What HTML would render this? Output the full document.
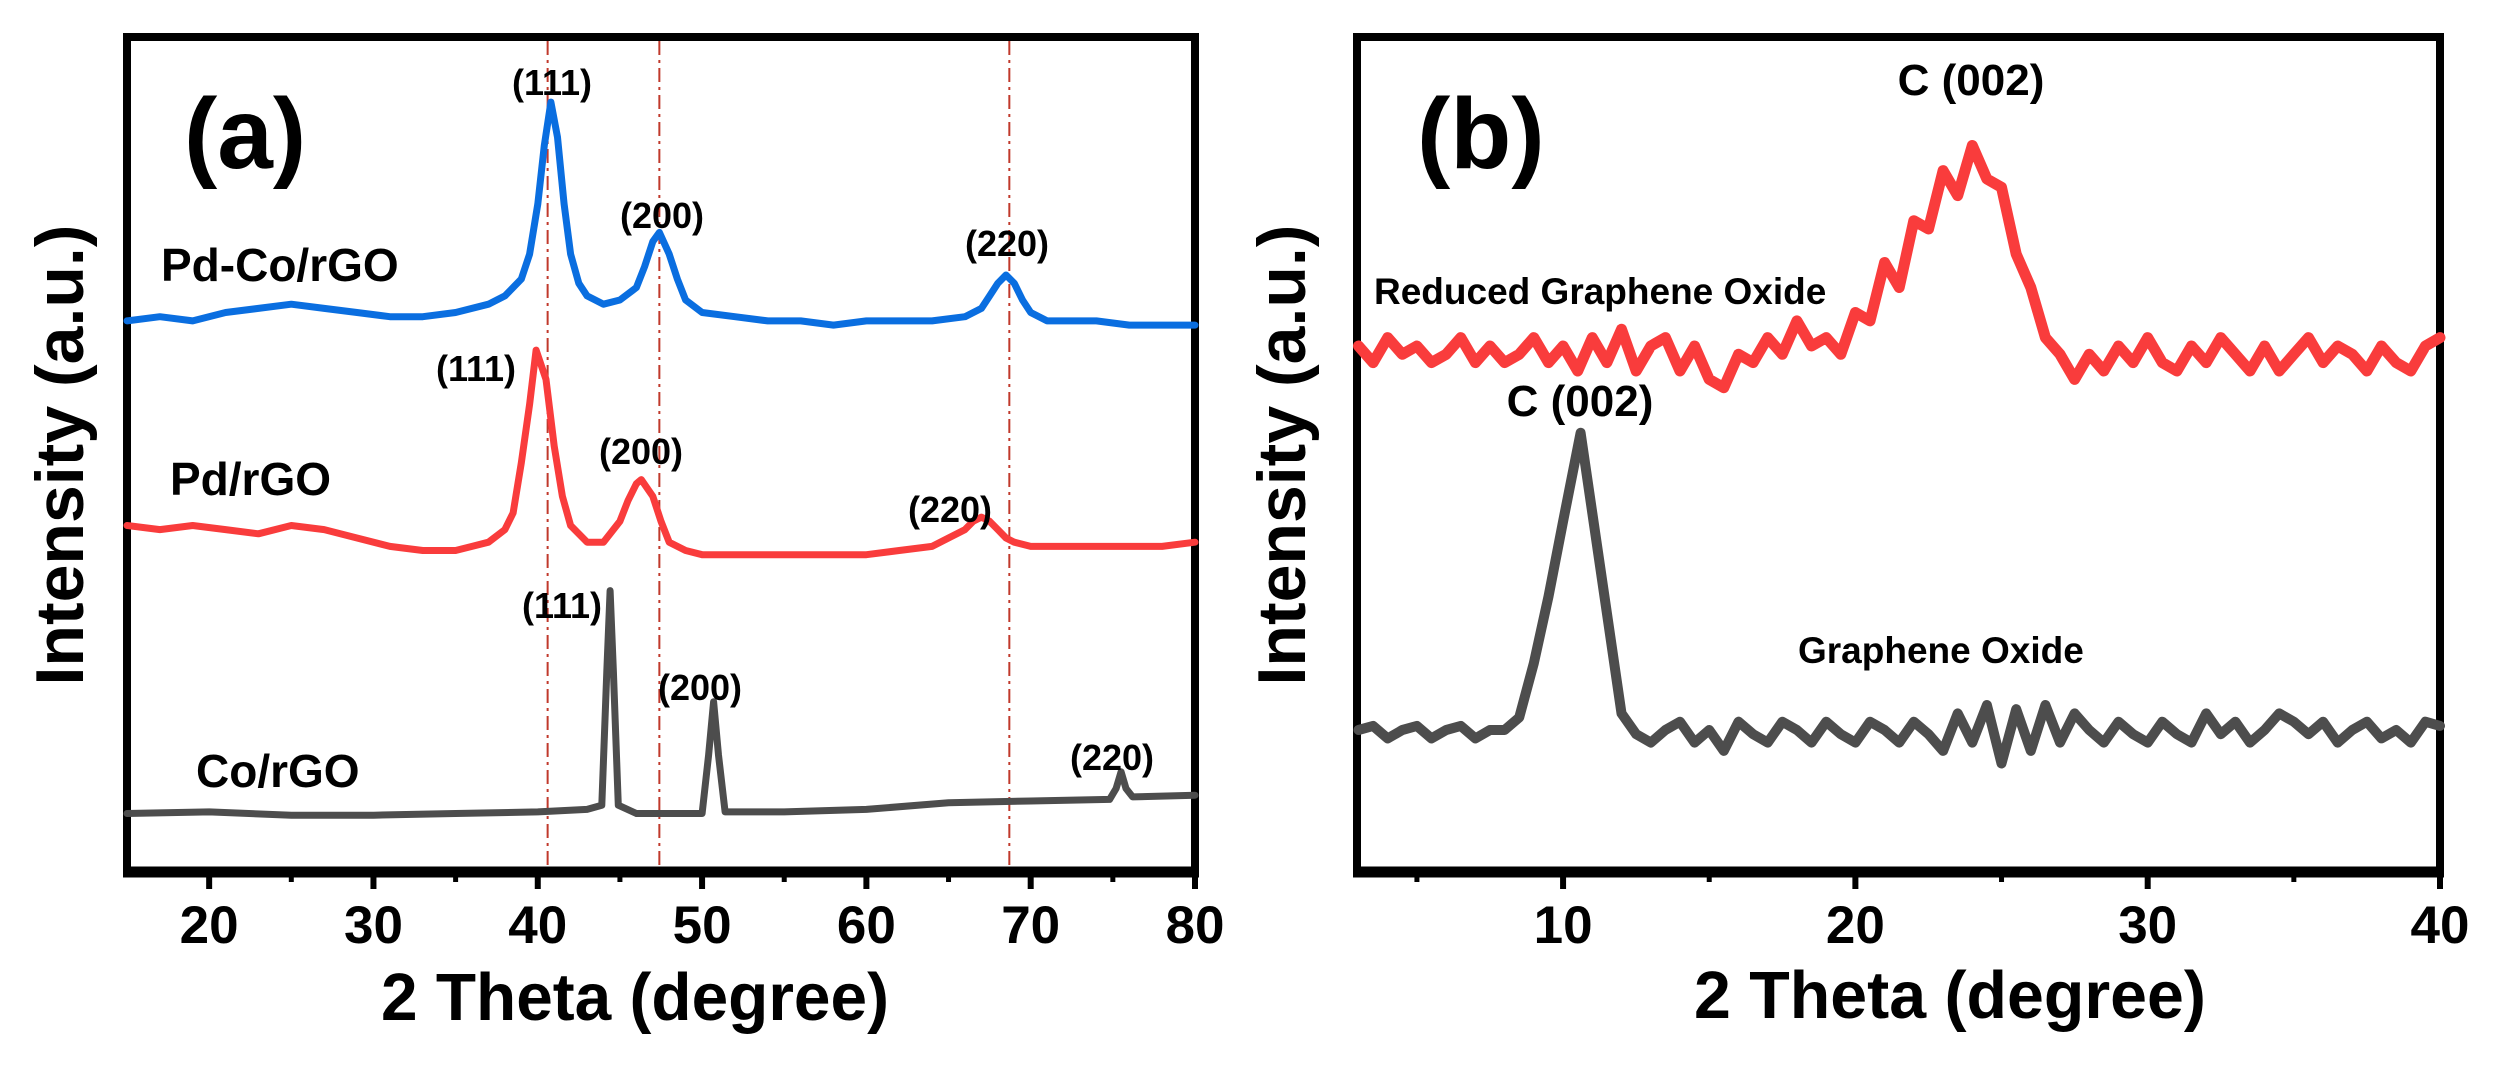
<!DOCTYPE html>
<html><head><meta charset="utf-8"><style>
html,body{margin:0;padding:0;background:#fff;}
svg{display:block;font-family:"Liberation Sans",Arial,sans-serif;font-weight:bold;}
</style></head><body>
<svg id="fig" width="2501" height="1070" viewBox="0 0 2501 1070" xmlns="http://www.w3.org/2000/svg">
<rect x="0" y="0" width="2501" height="1070" fill="#fff"/>
<g id="panelA"></g>
<g id="panelB"></g>
</svg>
<script>
// ---- Panel (a) data ----
const aTicks = [20,30,40,50,60,70,80];
const aMinor = [25,35,45,55,65,75];
const refLines = [40.6,47.4,68.7];
const pdcoX = [15,17,19,21,23,25,27,29,31,33,35,37,38,39,39.5,40,40.4,40.8,41.2,41.6,42,42.5,43,44,45,46,46.5,47,47.4,48,48.5,49,50,52,54,56,58,60,62,64,66,67,67.5,68,68.5,69,69.5,70,71,72,74,76,78,80];
const pdcoY = [66,66.5,66,67,67.5,68,67.5,67,66.5,66.5,67,68,69,71,74,80,87,92.2,88,80,74,70.5,69,68,68.5,70,72.5,75.5,76.6,74,71,68.5,67,66.5,66,66,65.5,66,66,66,66.5,67.5,69,70.5,71.5,70.5,68.5,67,66,66,66,65.5,65.5,65.5];
const pdX = [15,17,19,21,23,25,27,29,31,33,35,36,37,38,38.5,39,39.5,39.9,40.5,41,41.5,42,43,44,45,45.5,46,46.3,47,47.5,48,49,50,52,54,56,58,60,62,64,65,66,66.5,67,67.5,68,68.5,69,70,72,74,76,78,80];
const pdY = [41.5,41,41.5,41,40.5,41.5,41,40,39,38.5,38.5,39,39.5,41,43,49,56,62.5,59,51,45,41.5,39.5,39.5,42,44.5,46.5,47,45,42,39.5,38.5,38,38,38,38,38,38,38.5,39,40,41,42,42.5,42,41,40,39.5,39,39,39,39,39,39.5];
const coX = [15,20,25,30,35,40,43,43.9,44.2,44.4,44.6,44.9,46,50,50.4,50.7,51,51.4,55,60,65,70,74.8,75.2,75.5,75.8,76.2,80];
const coY = [7,7.2,6.8,6.8,7,7.2,7.5,8,24,33.7,24,8,7,7,14,20.4,14,7.2,7.2,7.5,8.3,8.5,8.7,10,12,10,9,9.2];
// ---- Panel (b) data ----
const bTicks = [10,20,30,40];
const bMinor = [5,15,25,35];
const rgoX = [3,3.5,4,4.5,5,5.5,6,6.5,7,7.5,8,8.5,9,9.5,10,10.5,11,11.5,12,12.5,13,13.5,14,14.5,15,15.5,16,16.5,17,17.5,18,18.5,19,19.5,20,20.5,21,21.5,22,22.5,23,23.5,24,24.5,25,25.5,26,26.5,27,27.5,28,28.5,29,29.5,30,30.5,31,31.5,32,32.5,33,33.5,34,34.5,35,35.5,36,36.5,37,37.5,38,38.5,39,39.5,40];
const rgoY = [63,61,64,62,63,61,62,64,61,63,61,62,64,61,63,60,64,61,65,60,63,64,60,63,59,58,62,61,64,62,66,63,64,62,67,66,73,70,78,77,84,81,87,83,82,74,70,64,62,59,62,60,63,61,64,61,60,63,61,64,62,60,63,60,62,64,61,63,62,60,63,61,60,63,64];
const goX = [3,3.5,4,4.5,5,5.5,6,6.5,7,7.5,8,8.5,9,9.5,10,10.6,11,11.5,12,12.5,13,13.5,14,14.5,15,15.5,16,16.5,17,17.5,18,18.5,19,19.5,20,20.5,21,21.5,22,22.5,23,23.5,24,24.5,25,25.5,26,26.5,27,27.5,28,28.5,29,29.5,30,30.5,31,31.5,32,32.5,33,33.5,34,34.5,35,35.5,36,36.5,37,37.5,38,38.5,39,39.5,40];
const goY = [17,17.5,16,17,17.5,16,17,17.5,16,17,17,18.5,25,33,42,52.6,43,31,19,16.5,15.5,17,18,15.5,17,14.5,18,16.5,15.5,18,17,15.5,18,16.5,15.5,18,17,15.5,18,16.5,14.5,19,15.5,20,13,19.5,14.5,20,15.5,19,17,15.5,18,16.5,15.5,18,16.5,15.5,19,16.5,18,15.5,17,19,18,16.5,18,15.5,17,18,16,17,15.5,18,17.5];

const NS = "http://www.w3.org/2000/svg";
function mk(parent, tag, attrs, text){
  const e = document.createElementNS(NS, tag);
  for (const k in attrs) e.setAttribute(k, attrs[k]);
  if (text !== undefined) e.textContent = text;
  parent.appendChild(e);
  return e;
}
const yTop = 37, yBot = 872;
function ys(v){ return yBot - v*(yBot-yTop)/100; }

function drawPanel(g, x0, x1, xmin, xmax, ticks, minor){
  const xs = v => x0 + (v-xmin)*(x1-x0)/(xmax-xmin);
  const fr = mk(g,'rect',{x:x0,y:yTop,width:x1-x0,height:yBot-yTop,fill:'none',stroke:'#000','stroke-width':8});
  
  
  const bx = mk(g,'line',{x1:x0-4,x2:x1+4,y1:yBot,y2:yBot,stroke:'#000','stroke-width':11});
  
  
  ticks.forEach(t=>{
    const l = mk(g,'line',{x1:xs(t),x2:xs(t),y1:yBot,y2:yBot+17,stroke:'#000','stroke-width':6});
    
    
    const tx = mk(g,'text',{x:xs(t),y:943,'text-anchor':'middle','font-size':53,fill:'#000'}, String(t));
    
    
  });
  minor.forEach(t=>{
    const l = mk(g,'line',{x1:xs(t),x2:xs(t),y1:yBot,y2:yBot+10,stroke:'#000','stroke-width':5});
    
    
  });
  return xs;
}
function series(g, xs, X, Y, color, w, name){
  let d = '';
  for (let i=0;i<X.length;i++) d += (i?'L':'M') + xs(X[i]).toFixed(1) + ',' + ys(Y[i]).toFixed(1);
  const p = mk(g,'path',{d:d,fill:'none',stroke:color,'stroke-width':w,'stroke-linejoin':'round','stroke-linecap':'round'});
  
  
}
function label(g, x, y, size, txt, name, anchor){
  const t = mk(g,'text',{x:x,y:y,'font-size':size,fill:'#000','text-anchor':anchor||'start'}, txt);
  
  
  return t;
}

// ---- Panel A ----
const gA = document.getElementById('panelA');
const xa = drawPanel(gA, 127, 1195, 15, 80, aTicks, aMinor);
refLines.forEach(v=>{
  const l = mk(gA,'line',{x1:xa(v),x2:xa(v),y1:yTop+4,y2:yBot-5,stroke:'#c0392b','stroke-width':2,'stroke-dasharray':'14,5,3,5'});
  
  
});
series(gA, xa, coX, coY, '#4d4d4d', 7, 'co-rgo-trace');
series(gA, xa, pdX, pdY, '#f93c3c', 7, 'pd-rgo-trace');
series(gA, xa, pdcoX, pdcoY, '#0a6ee0', 7, 'pd-co-rgo-trace');
label(gA, 184, 168, 100, '(a)', 'panel-a-label');
label(gA, 161, 281, 46, 'Pd-Co/rGO', 'pd-co-rgo-label');
label(gA, 170, 495, 46, 'Pd/rGO', 'pd-rgo-label');
label(gA, 196, 787, 46, 'Co/rGO', 'co-rgo-label');
label(gA, 552, 95, 36, '(111)', 'pd-co-111-label', 'middle');
label(gA, 662, 228, 36, '(200)', 'pd-co-200-label', 'middle');
label(gA, 1007, 256, 36, '(220)', 'pd-co-220-label', 'middle');
label(gA, 476, 381, 36, '(111)', 'pd-111-label', 'middle');
label(gA, 641, 464, 36, '(200)', 'pd-200-label', 'middle');
label(gA, 950, 522, 36, '(220)', 'pd-220-label', 'middle');
label(gA, 562, 618, 36, '(111)', 'co-111-label', 'middle');
label(gA, 700, 700, 36, '(200)', 'co-200-label', 'middle');
label(gA, 1112, 770, 36, '(220)', 'co-220-label', 'middle');
const ta = label(gA, 635, 1020, 67, '2 Theta (degree)', 'x-axis-title', 'middle');
ta.setAttribute('textLength', 508); ta.setAttribute('lengthAdjust','spacingAndGlyphs');
const ya = label(gA, 0, 0, 68, 'Intensity (a.u.)', 'y-axis-title', 'middle');
ya.setAttribute('transform','translate(83,455) rotate(-90)');

// ---- Panel B ----
const gB = document.getElementById('panelB');
const xb = drawPanel(gB, 1357, 2440, 2.95, 40, bTicks, bMinor);
series(gB, xb, goX, goY, '#4d4d4d', 10, 'go-trace');
series(gB, xb, rgoX, rgoY, '#f93c3c', 11, 'rgo-trace');
label(gB, 1417, 168, 100, '(b)', 'panel-b-label');
label(gB, 1374, 304, 37, 'Reduced Graphene Oxide', 'rgo-label');
label(gB, 1798, 663, 37, 'Graphene Oxide', 'go-label');
label(gB, 1971, 95, 44, 'C (002)', 'rgo-002-label', 'middle');
label(gB, 1580, 416, 44, 'C (002)', 'go-002-label', 'middle');
const tb = label(gB, 1950, 1018, 67, '2 Theta (degree)', 'x-axis-title', 'middle');
tb.setAttribute('textLength', 512); tb.setAttribute('lengthAdjust','spacingAndGlyphs');
const yb = label(gB, 0, 0, 68, 'Intensity (a.u.)', 'y-axis-title', 'middle');
yb.setAttribute('transform','translate(1305,455) rotate(-90)');
</script>
</body></html>
